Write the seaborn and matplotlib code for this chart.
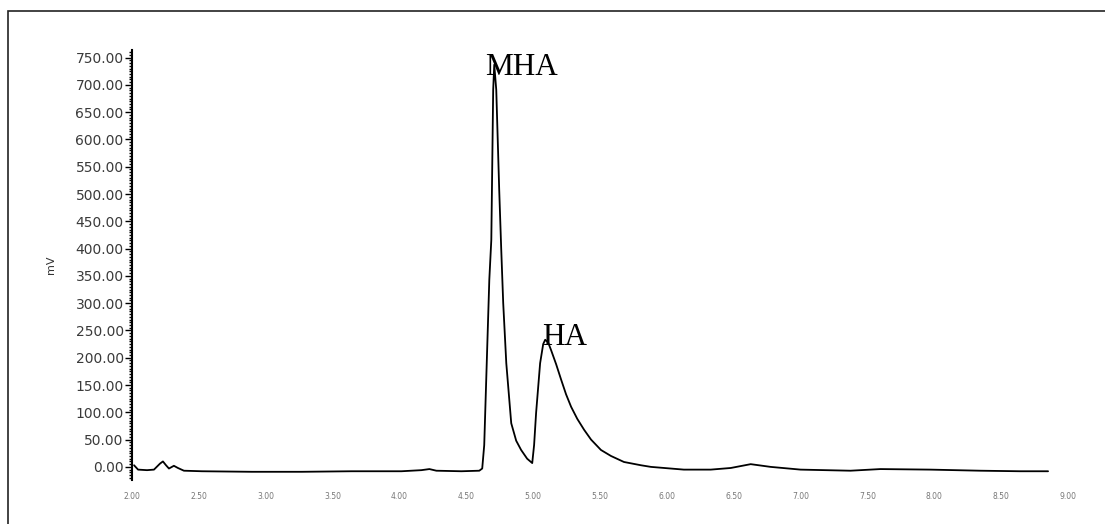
import matplotlib
matplotlib.use("Agg")
import matplotlib.pyplot as plt
from matplotlib.patches import Rectangle
from matplotlib.ticker import MultipleLocator
import seaborn as sns
import pandas as pd

# chromatogram trace (minutes, mV)
time_min = [2.015, 2.045, 2.112, 2.164, 2.209, 2.231, 2.254, 2.276, 2.313, 2.343,
            2.388, 2.522, 2.896, 3.269, 3.642, 4.015, 4.164, 4.224, 4.276, 4.463,
            4.597, 4.619, 4.634, 4.649, 4.672, 4.687, 4.701, 4.709, 4.724, 4.746,
            4.761, 4.776, 4.799, 4.836, 4.873, 4.910, 4.955, 4.993, 5.007, 5.022,
            5.052, 5.075, 5.090, 5.112, 5.134, 5.172, 5.209, 5.246, 5.284, 5.330,
            5.381, 5.433, 5.507, 5.582, 5.679, 5.806, 5.881, 6.127, 6.328, 6.478,
            6.627, 6.776, 7.000, 7.373, 7.597, 7.970, 8.343, 8.642, 8.851]
signal_mv = [3, -5, -6, -5, 6, 10, 3, -3, 2, -2,
             -7, -8, -9, -9, -8, -8, -6, -4, -7, -8,
             -7, -3, 40, 160, 343, 416, 691, 737, 691, 508,
             400, 300, 190, 80, 48, 31, 15, 7, 40, 99,
             190, 225, 233, 228, 214, 188, 160, 133, 110, 88,
             68, 50, 31, 20, 9, 3, 0, -5, -5, -2,
             5, 0, -5, -7, -4, -5, -7, -8, -8]

x_ticks = [2.0, 2.5, 3.0, 3.5, 4.0, 4.5, 5.0, 5.5, 6.0, 6.5, 7.0, 7.5, 8.0, 8.5, 9.0]
x_tick_labels = ["2.00", "2.50", "3.00", "3.50", "4.00", "4.50", "5.00", "5.50",
                 "6.00", "6.50", "7.00", "7.50", "8.00", "8.50", "9.00"]
y_ticks = [0, 50, 100, 150, 200, 250, 300, 350, 400, 450, 500, 550, 600, 650, 700, 750]

peak_names = ["MHA", "HA"]
peak_x = [4.64, 5.067]
peak_y = [719, 224]

df = pd.DataFrame({"time": time_min, "mV": signal_mv})

sns.set_style("white")
fig = plt.figure(figsize=(11.05, 5.24), dpi=100)
ax = fig.add_axes([0.1195, 0.084, 0.847, 0.8206])

sns.lineplot(data=df, x="time", y="mV", sort=False, color="black", linewidth=1.3, ax=ax)

ax.set_xlim(2.0, 9.0)
ax.set_ylim(-24, 764)
ax.set_yticks(y_ticks)
ax.set_yticklabels([f"{v:.2f}" for v in y_ticks], fontsize=10, color="#3a3a3a")
ax.yaxis.set_minor_locator(MultipleLocator(5))
ax.tick_params(axis="y", which="major", direction="out", length=5, width=1, color="black", left=True, pad=1)
ax.tick_params(axis="y", which="minor", direction="out", length=2, width=1, color="black", left=True)

ax.set_xticks(x_ticks)
ax.set_xticklabels(x_tick_labels, fontsize=5.5, color="#777777")
ax.tick_params(axis="x", length=0, pad=9)

ax.set_xlabel("")
ax.set_ylabel("mV", fontsize=8, color="#333333", labelpad=14)

for side in ["top", "right", "bottom"]:
    ax.spines[side].set_visible(False)
ax.spines["left"].set_color("black")
ax.spines["left"].set_linewidth(1.5)

for name, px, py in zip(peak_names, peak_x, peak_y):
    ax.text(px, py, name, family="Liberation Serif", fontsize=22.5, color="black",
            ha="left", va="baseline")

# outer frame around the figure
fig.patches.append(Rectangle((0.007, -0.2), 1.2, 1.179, transform=fig.transFigure,
                             fill=False, edgecolor="#222222", linewidth=1.2))

fig.savefig("out.png", dpi=100)
